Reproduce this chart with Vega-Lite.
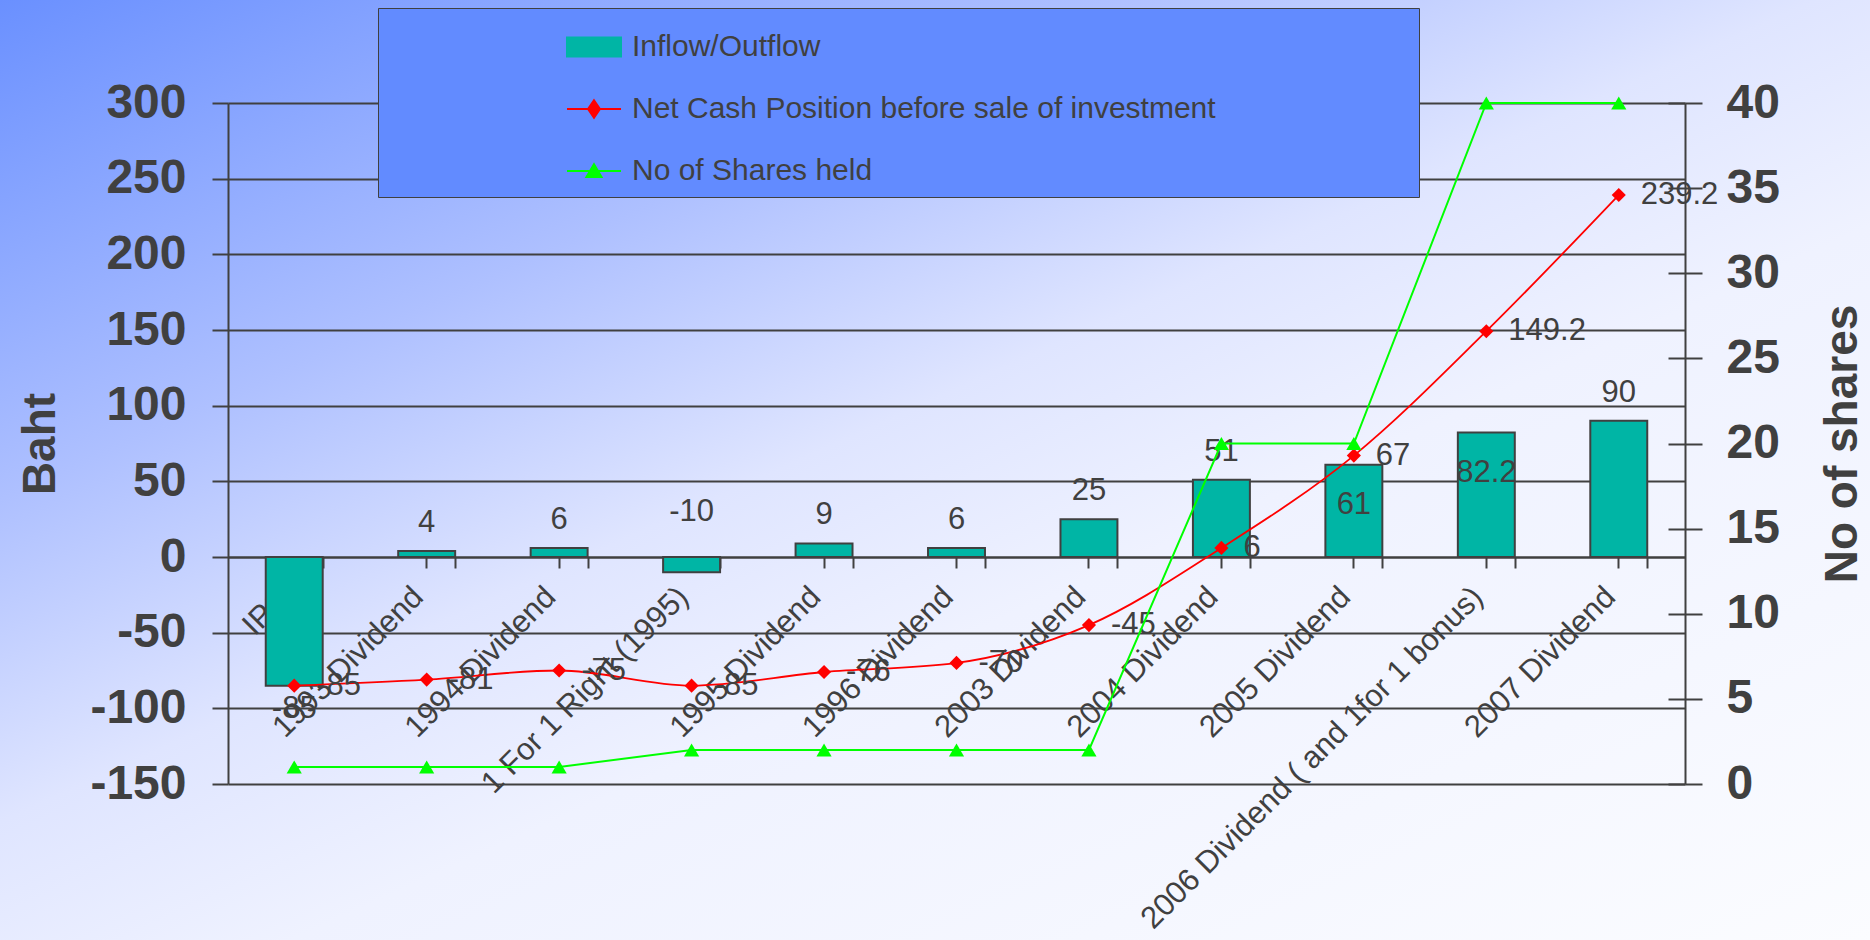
{
  "$schema": "https://vega.github.io/schema/vega-lite/v6.json",
  "width": 1870,
  "height": 940,
  "autosize": {"type": "none"},
  "padding": 0,
  "background": "#FAFBFF",
  "view": {
    "stroke": null,
    "fill": {
      "gradient": "linear",
      "x1": 0, "y1": 0, "x2": 0.945, "y2": 1.05,
      "stops": [
        {"offset": 0, "color": "#6A90FF"},
        {"offset": 0.28, "color": "#AEC0FF"},
        {"offset": 0.46, "color": "#DFE5FF"},
        {"offset": 0.6, "color": "#EFF2FF"},
        {"offset": 1, "color": "#FBFCFF"}
      ]
    }
  },
  "config": {
    "font": "Liberation Sans",
    "axis": {"labelFont": "Liberation Sans", "titleFont": "Liberation Sans"},
    "legend": {"labelFont": "Liberation Sans"}
  },
  "data": {
    "values": [
      {"cat": "IPO", "flow": -85, "net": -85, "shares": 1},
      {"cat": "1993 Dividend", "flow": 4, "net": -81, "shares": 1},
      {"cat": "1994 Dividend", "flow": 6, "net": -75, "shares": 1},
      {"cat": "1 For 1 Right (1995)", "flow": -10, "net": -85, "shares": 2},
      {"cat": "1995 Dividend", "flow": 9, "net": -76, "shares": 2},
      {"cat": "1996 Dividend", "flow": 6, "net": -70, "shares": 2},
      {"cat": "2003 Dividend", "flow": 25, "net": -45, "shares": 2},
      {"cat": "2004 Dividend", "flow": 51, "net": 6, "shares": 20},
      {"cat": "2005 Dividend", "flow": 61, "net": 67, "shares": 20},
      {"cat": "2006 Dividend ( and 1for 1 bonus)", "flow": 82.2, "net": 149.2, "shares": 40},
      {"cat": "2007 Dividend", "flow": 90, "net": 239.2, "shares": 40}
    ]
  },
  "layer": [
    {
      "encoding": {
        "x": {
          "field": "cat", "type": "nominal", "sort": null,
          "scale": {"range": [228, 1685], "paddingInner": 0.57, "paddingOuter": 0.285},
          "axis": {
            "orient": "bottom", "offset": -383, "title": null,
            "labelAngle": -45, "labelAlign": "right", "labelBaseline": "middle",
            "labelFontSize": 31, "labelColor": "#404040", "labelPadding": 24, "labelOffset": -8,
            "labelLimit": 1000, "labelOverlap": false,
            "tickSize": 11, "tickColor": "#404040", "tickWidth": 2,
            "domainColor": "#404040", "domainWidth": 2, "grid": false
          }
        }
      },
      "layer": [
        {
          "mark": {"type": "bar", "stroke": "#404040", "strokeWidth": 2},
          "encoding": {
            "y": {
              "field": "flow", "type": "quantitative", "stack": null, "title": "Baht",
              "scale": {"domain": [-150, 300], "range": [784, 103], "nice": false, "zero": false},
              "axis": {
                "orient": "left", "offset": -228,
                "values": [-150, -100, -50, 0, 50, 100, 150, 200, 250, 300],
                "labelExpr": "'' + datum.value",
                "labelFontSize": 48, "labelFontWeight": "bold", "labelColor": "#404040",
                "labelPadding": 26, "labelBaseline": "middle",
                "tickSize": 16, "tickColor": "#404040", "tickWidth": 2,
                "domainColor": "#404040", "domainWidth": 2,
                "grid": true, "gridColor": "#404040", "gridWidth": 2, "gridOpacity": 1,
                "titleFontSize": 46, "titleFontWeight": "bold", "titleColor": "#404040",
                "titleAngle": 270, "titleX": -174, "titleBaseline": "alphabetic", "titleAlign": "center"
              }
            },
            "color": {
              "datum": "Inflow/Outflow",
              "scale": {
                "domain": ["Inflow/Outflow", "Net Cash Position before sale of investment", "No of Shares held"],
                "range": ["#00B5A5", "#FF0000", "#00FF00"]
              },
              "legend": {
                "orient": "none", "legendX": 378, "legendY": 8, "title": null,
                "direction": "vertical", "padding": 11,
                "fillColor": "#628BFF", "strokeColor": "#404040",
                "symbolSize": 2916, "symbolOffset": 177, "rowPadding": 19,
                "labelFontSize": 30, "labelColor": "#404040", "labelOffset": 10, "labelLimit": 2000,
                "labelExpr": "datum.label + '                       \u200b'",
                "symbolStrokeWidth": 2, "symbolOpacity": 1
              }
            }
          }
        },
        {
          "transform": [{"filter": "false"}],
          "mark": {"type": "point"},
          "encoding": {
            "y": {"field": "flow", "type": "quantitative", "title": "Baht"},
            "shape": {
              "datum": "Inflow/Outflow",
              "scale": {
                "domain": ["Inflow/Outflow", "Net Cash Position before sale of investment", "No of Shares held"],
                "range": [
                  "M-1,-0.35L1,-0.35L1,0.35L-1,0.35Z",
                  "M-1,0L1,0M0,-0.32L0.22,0L0,0.32L-0.22,0Z",
                  "M-1,0L1,0M0,-0.25L0.28,0.22L-0.28,0.22Z"
                ]
              }
            }
          }
        },
        {
          "transform": [{"filter": "datum.flow >= 0 && datum.cat != '2005 Dividend' && datum.cat != '2006 Dividend ( and 1for 1 bonus)'"}],
          "mark": {"type": "text", "baseline": "alphabetic", "dy": -19, "fontSize": 31, "color": "#404040"},
          "encoding": {
            "y": {"field": "flow", "type": "quantitative", "title": "Baht"},
            "text": {"field": "flow", "type": "nominal"}
          }
        },
        {
          "transform": [{"filter": "datum.cat == '2005 Dividend' || datum.cat == '2006 Dividend ( and 1for 1 bonus)'"}],
          "mark": {"type": "text", "baseline": "top", "dy": 25, "fontSize": 31, "color": "#404040"},
          "encoding": {
            "y": {"field": "flow", "type": "quantitative", "title": "Baht"},
            "text": {"field": "flow", "type": "nominal"}
          }
        },
        {
          "transform": [{"filter": "datum.cat == 'IPO'"}],
          "mark": {"type": "text", "baseline": "top", "dy": 8, "fontSize": 31, "color": "#404040"},
          "encoding": {
            "y": {"field": "flow", "type": "quantitative", "title": "Baht"},
            "text": {"field": "flow", "type": "nominal"}
          }
        },
        {
          "transform": [{"filter": "datum.cat == '1 For 1 Right (1995)'"}],
          "mark": {"type": "text", "baseline": "alphabetic", "dy": -51, "fontSize": 31, "color": "#404040"},
          "encoding": {
            "y": {"field": "flow", "type": "quantitative", "title": "Baht"},
            "text": {"field": "flow", "type": "nominal"}
          }
        },
        {
          "mark": {"type": "line", "strokeWidth": 1.8, "interpolate": "monotone"},
          "encoding": {
            "y": {"field": "net", "type": "quantitative", "title": "Baht"},
            "color": {"datum": "Net Cash Position before sale of investment"}
          }
        },
        {
          "mark": {"type": "point", "shape": "diamond", "filled": true, "size": 200, "opacity": 1, "strokeWidth": 0},
          "encoding": {
            "y": {"field": "net", "type": "quantitative", "title": "Baht"},
            "color": {"datum": "Net Cash Position before sale of investment"}
          }
        },
        {
          "mark": {"type": "text", "align": "left", "baseline": "middle", "dx": 22, "fontSize": 31, "color": "#404040"},
          "encoding": {
            "y": {"field": "net", "type": "quantitative", "title": "Baht"},
            "text": {"field": "net", "type": "nominal"}
          }
        }
      ]
    },
    {
      "encoding": {
        "x": {
          "field": "cat", "type": "nominal", "sort": null,
          "axis": {
            "orient": "bottom", "offset": -383, "title": null,
            "labels": false, "domain": false, "grid": false,
            "ticks": true, "tickBand": "extent",
            "tickSize": 11, "tickColor": "#404040", "tickWidth": 2
          }
        },
        "y": {
          "field": "shares", "type": "quantitative", "title": "No of shares",
          "scale": {"domain": [0, 40], "range": [784, 103], "nice": false, "zero": false},
          "axis": {
            "orient": "right", "offset": -185,
            "values": [0, 5, 10, 15, 20, 25, 30, 35, 40],
            "labelFontSize": 48, "labelFontWeight": "bold", "labelColor": "#404040",
            "labelPadding": 24, "labelBaseline": "middle",
            "tickSize": 17, "tickColor": "#404040", "tickWidth": 2,
            "domainColor": "#404040", "domainWidth": 2, "grid": false,
            "titleFontSize": 46, "titleFontWeight": "bold", "titleColor": "#404040",
            "titleAngle": 270, "titleX": 171, "titleBaseline": "alphabetic", "titleAlign": "center"
          }
        }
      },
      "layer": [
        {
          "mark": {"type": "line", "strokeWidth": 2},
          "encoding": {"color": {"datum": "No of Shares held"}}
        },
        {
          "mark": {"type": "point", "shape": "triangle-up", "filled": true, "size": 230, "opacity": 1, "strokeWidth": 0},
          "encoding": {"color": {"datum": "No of Shares held"}}
        }
      ]
    },
    {
      "transform": [{"filter": "false"}],
      "mark": {"type": "point"},
      "encoding": {
        "x": {"field": "cat", "type": "nominal", "sort": null, "axis": null},
        "y": {
          "field": "shares", "type": "quantitative", "title": null,
          "scale": {"domain": [0, 40], "range": [784, 103], "nice": false, "zero": false},
          "axis": {
            "orient": "right", "offset": -185, "title": null,
            "values": [0, 5, 10, 15, 20, 25, 30, 35, 40],
            "labels": false, "domain": false, "grid": false,
            "tickSize": -17, "tickColor": "#404040", "tickWidth": 2
          }
        }
      }
    }
  ],
  "resolve": {"scale": {"y": "independent"}, "axis": {"x": "independent"}}
}
